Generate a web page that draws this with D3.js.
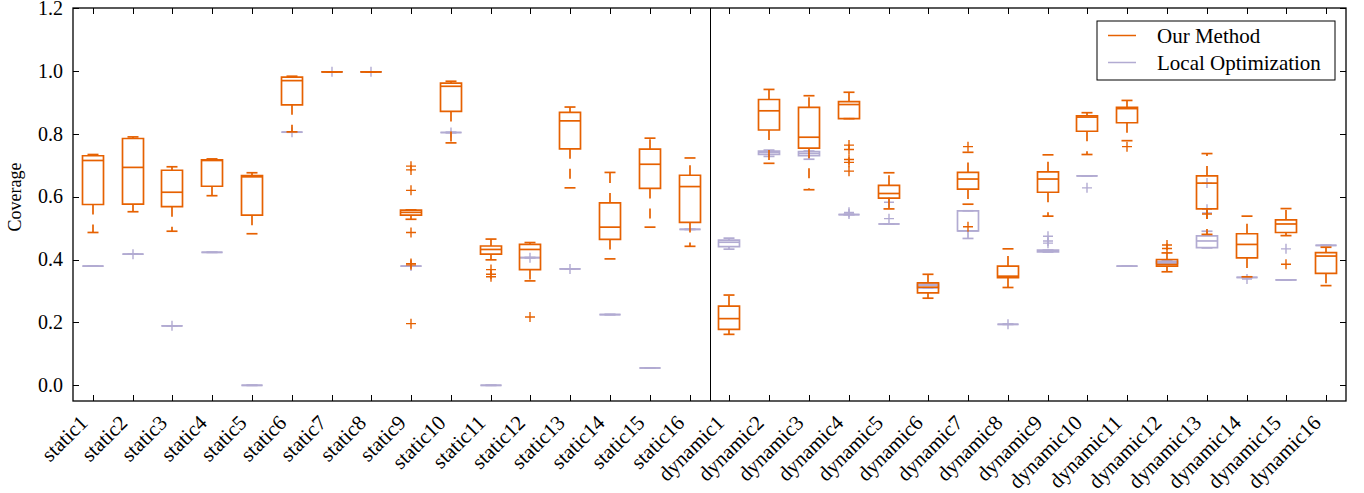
<!DOCTYPE html>
<html>
<head>
<meta charset="utf-8">
<script src="https://cdn.jsdelivr.net/npm/d3@7"></script>
<style>
  body { margin: 0; background: #fff; }
  text { font-family: "Liberation Serif", "DejaVu Serif", serif; fill: #000; }
</style>
</head>
<body>
<div id="chart"></div>
<script>
var categories = ["static1", "static2", "static3", "static4", "static5", "static6", "static7", "static8",
  "static9", "static10", "static11", "static12", "static13", "static14", "static15", "static16",
  "dynamic1", "dynamic2", "dynamic3", "dynamic4", "dynamic5", "dynamic6", "dynamic7", "dynamic8",
  "dynamic9", "dynamic10", "dynamic11", "dynamic12", "dynamic13", "dynamic14", "dynamic15", "dynamic16"];

// [lower cap, q1, median, q3, upper cap]
var oursStats = [
  [0.486, 0.575, 0.715, 0.730, 0.734], [0.552, 0.576, 0.693, 0.785, 0.790],
  [0.490, 0.568, 0.614, 0.684, 0.695], [0.603, 0.633, 0.715, 0.717, 0.720],
  [0.482, 0.541, 0.663, 0.667, 0.676], [0.806, 0.892, 0.969, 0.980, 0.983],
  [0.997, 0.997, 0.997, 0.997, 0.997], [0.997, 0.997, 0.997, 0.997, 0.997],
  [0.528, 0.541, 0.550, 0.557, 0.558], [0.771, 0.871, 0.951, 0.961, 0.967],
  [0.399, 0.417, 0.432, 0.443, 0.465], [0.332, 0.368, 0.432, 0.448, 0.454],
  [0.628, 0.752, 0.841, 0.868, 0.885], [0.402, 0.464, 0.503, 0.580, 0.677],
  [0.503, 0.626, 0.703, 0.751, 0.786], [0.442, 0.518, 0.632, 0.668, 0.723],
  [0.162, 0.178, 0.212, 0.252, 0.287], [0.706, 0.812, 0.873, 0.909, 0.941],
  [0.622, 0.754, 0.789, 0.884, 0.921], [0.848, 0.848, 0.893, 0.902, 0.932],
  [0.561, 0.595, 0.610, 0.636, 0.676], [0.277, 0.294, 0.312, 0.326, 0.353],
  [0.576, 0.624, 0.656, 0.677, 0.741], [0.311, 0.342, 0.347, 0.379, 0.434],
  [0.538, 0.614, 0.656, 0.679, 0.733], [0.734, 0.808, 0.853, 0.857, 0.867],
  [0.778, 0.835, 0.880, 0.884, 0.906], [0.361, 0.379, 0.384, 0.400, 0.421],
  [0.480, 0.561, 0.643, 0.666, 0.737], [0.345, 0.405, 0.448, 0.482, 0.538],
  [0.476, 0.486, 0.513, 0.526, 0.562], [0.317, 0.356, 0.411, 0.422, 0.439]
];
var oursOutliers = [
  [], [], [], [], [], [], [], [],
  [0.697, 0.685, 0.620, 0.486, 0.387, 0.383, 0.196], [], [0.368, 0.353, 0.345], [0.217],
  [], [], [], [],
  [], [], [], [0.764, 0.750, 0.718, 0.709, 0.681],
  [], [], [0.759, 0.504], [],
  [], [], [0.759], [0.435, 0.446],
  [0.545], [], [0.385], []
];

var localStats = [
  [0.379, 0.379, 0.379, 0.379, 0.379], [0.417, 0.417, 0.417, 0.417, 0.417],
  [0.189, 0.189, 0.189, 0.189, 0.189], [0.423, 0.423, 0.423, 0.423, 0.423],
  [0.000, 0.000, 0.000, 0.000, 0.000], [0.805, 0.805, 0.805, 0.805, 0.805],
  [0.997, 0.997, 0.997, 0.997, 0.997], [0.997, 0.997, 0.997, 0.997, 0.997],
  [0.379, 0.379, 0.379, 0.379, 0.379], [0.804, 0.804, 0.804, 0.804, 0.804],
  [0.000, 0.000, 0.000, 0.000, 0.000], [0.406, 0.406, 0.406, 0.406, 0.406],
  [0.370, 0.370, 0.370, 0.370, 0.370], [0.225, 0.225, 0.225, 0.225, 0.225],
  [0.055, 0.055, 0.055, 0.055, 0.055], [0.496, 0.496, 0.496, 0.496, 0.496],
  [0.433, 0.441, 0.455, 0.462, 0.468], [0.728, 0.734, 0.740, 0.745, 0.748],
  [0.719, 0.730, 0.737, 0.743, 0.745], [0.543, 0.543, 0.543, 0.543, 0.543],
  [0.513, 0.513, 0.513, 0.513, 0.513], [0.310, 0.310, 0.318, 0.322, 0.322],
  [0.467, 0.491, 0.491, 0.555, 0.555], [0.194, 0.194, 0.194, 0.194, 0.194],
  [0.424, 0.424, 0.427, 0.430, 0.430], [0.666, 0.666, 0.666, 0.666, 0.666],
  [0.379, 0.379, 0.379, 0.379, 0.379], [0.385, 0.388, 0.392, 0.394, 0.396],
  [0.437, 0.438, 0.459, 0.475, 0.490], [0.343, 0.343, 0.343, 0.343, 0.343],
  [0.335, 0.335, 0.335, 0.335, 0.335], [0.445, 0.445, 0.445, 0.445, 0.445]
];
var localOutliers = [
  [], [0.417], [0.189], [], [], [0.805], [0.997], [0.997],
  [0.379], [0.804], [], [0.406], [0.370], [], [], [],
  [], [], [], [0.545, 0.550], [0.530, 0.582], [], [], [0.194],
  [0.474, 0.459, 0.452], [0.628], [], [], [0.643, 0.560, 0.548], [0.338], [0.434], []
];

var yTicks = [0.0, 0.2, 0.4, 0.6, 0.8, 1.0, 1.2];
var seriesNames = ["Our Method", "Local Optimization"];
var colors = ["#e66101", "#b2abd2"];

var W = 1364, H = 493;
var mLeft = 73, mRight = 1346, mTop = 8, mBottom = 401;
var serif = "'Liberation Serif', 'DejaVu Serif', serif";

var svg = d3.select("#chart").append("svg").attr("width", W).attr("height", H);

var x = d3.scalePoint().domain(categories).range([mLeft, mRight]).padding(0.5);
var y = d3.scaleLinear().domain([-0.05, 1.2]).range([mBottom, mTop]);

var boxW = 21, capW = 11, plus = 5;

/** dessine une serie de boites */
function drawSeries(stats, outliers, color) {
  var g = svg.append("g")
    .attr("fill", "none")
    .attr("stroke", color)
    .attr("stroke-width", 1.7);
  stats.forEach(function (s, i) {
    var cx = Math.round(x(categories[i]));
    var x0 = cx - boxW / 2, x1 = cx + boxW / 2;
    // whiskers (dashed)
    g.append("line").attr("x1", cx).attr("x2", cx)
      .attr("y1", y(s[1])).attr("y2", y(s[0])).attr("stroke-dasharray", "10,10");
    g.append("line").attr("x1", cx).attr("x2", cx)
      .attr("y1", y(s[3])).attr("y2", y(s[4])).attr("stroke-dasharray", "10,10");
    // caps
    [s[0], s[4]].forEach(function (v) {
      g.append("line").attr("x1", cx - capW / 2).attr("x2", cx + capW / 2)
        .attr("y1", y(v)).attr("y2", y(v));
    });
    // box
    g.append("path")
      .attr("d", "M" + x0 + "," + y(s[3]) + "H" + x1 + "V" + y(s[1]) + "H" + x0 + "Z");
    // median
    g.append("line").attr("x1", x0).attr("x2", x1)
      .attr("y1", y(s[2])).attr("y2", y(s[2]));
    // outliers as +
    outliers[i].forEach(function (v) {
      g.append("path")
        .attr("stroke-width", 1.4)
        .attr("d", "M" + (cx - plus) + "," + y(v) + "H" + (cx + plus) +
          "M" + cx + "," + (y(v) - plus) + "V" + (y(v) + plus));
    });
  });
}

drawSeries(localStats, localOutliers, colors[1]);
drawSeries(oursStats, oursOutliers, colors[0]);

// separation static / dynamic
var sep = Math.round((x("static16") + x("dynamic1")) / 2) + 0.5;
svg.append("line")
  .attr("x1", sep).attr("x2", sep).attr("y1", mTop).attr("y2", mBottom)
  .attr("stroke", "#000").attr("stroke-width", 1);

// frame
svg.append("rect")
  .attr("x", mLeft).attr("y", mTop).attr("width", mRight - mLeft).attr("height", mBottom - mTop)
  .attr("fill", "none").attr("stroke", "#000").attr("stroke-width", 1.3);

// ticks, inward on all sides
var tickLen = 6;
var ticks = svg.append("g").attr("stroke", "#000").attr("stroke-width", 1);
categories.forEach(function (c) {
  var cx = Math.round(x(c)) + 0.5;
  ticks.append("line").attr("x1", cx).attr("x2", cx).attr("y1", mBottom).attr("y2", mBottom - tickLen);
  ticks.append("line").attr("x1", cx).attr("x2", cx).attr("y1", mTop).attr("y2", mTop + tickLen);
});
yTicks.forEach(function (t) {
  var ty = Math.round(y(t)) + 0.5;
  ticks.append("line").attr("x1", mLeft).attr("x2", mLeft + tickLen).attr("y1", ty).attr("y2", ty);
  ticks.append("line").attr("x1", mRight).attr("x2", mRight - tickLen).attr("y1", ty).attr("y2", ty);
});

// y tick labels
svg.append("g").selectAll("text").data(yTicks).enter().append("text")
  .attr("x", mLeft - 10)
  .attr("y", function (d) { return y(d); })
  .attr("dy", "0.34em")
  .attr("text-anchor", "end")
  .style("font-family", serif)
  .style("font-size", "20px")
  .text(function (d) { return d.toFixed(1); });

// x tick labels
svg.append("g").selectAll("text").data(categories).enter().append("text")
  .attr("text-anchor", "end")
  .attr("transform", function (d) {
    return "translate(" + (x(d) - 4) + "," + 424 + ") rotate(-45)";
  })
  .style("font-family", serif)
  .style("font-size", "21px")
  .text(function (d) { return d; });

// y axis title
svg.append("text")
  .attr("transform", "translate(21,197) rotate(-90)")
  .attr("text-anchor", "middle")
  .style("font-family", serif)
  .style("font-size", "18px")
  .text("Coverage");

// legend
var lg = svg.append("g");
lg.append("rect")
  .attr("x", 1097).attr("y", 21).attr("width", 238).attr("height", 59)
  .attr("fill", "#fff").attr("stroke", "#000").attr("stroke-width", 1);
seriesNames.forEach(function (n, i) {
  var ly = 35.5 + i * 27;
  lg.append("line")
    .attr("x1", 1108).attr("x2", 1136).attr("y1", ly).attr("y2", ly)
    .attr("stroke", colors[i]).attr("stroke-width", 1.5);
  lg.append("text")
    .attr("x", 1157).attr("y", ly + 7)
    .style("font-family", serif)
    .style("font-size", "21px")
    .text(n);
});
</script>
</body>
</html>
